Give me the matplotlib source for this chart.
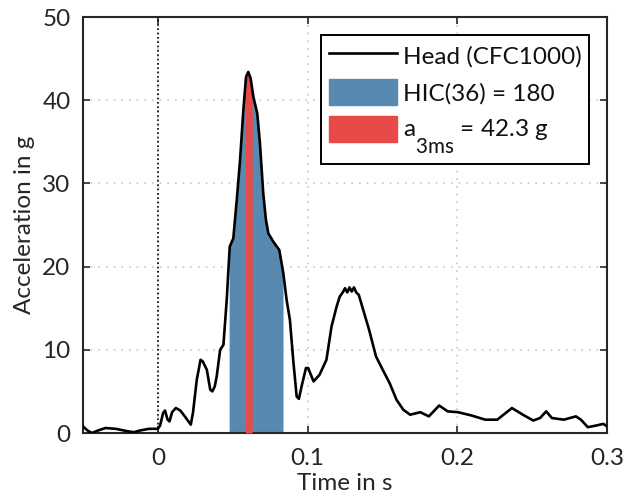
import numpy as np
import matplotlib
matplotlib.use("Agg")
import matplotlib.pyplot as plt
from matplotlib.patches import Patch
from matplotlib.lines import Line2D

plt.rcParams['font.family'] = ['Lato', 'DejaVu Sans']
plt.rcParams['mathtext.fontset'] = 'custom'
plt.rcParams['mathtext.rm'] = 'Lato'
plt.rcParams['mathtext.it'] = 'Lato:italic'
try:
    import matplotlib._mathtext as _mt
    _mt.SHRINK_FACTOR = 0.85
    _mt.FontConstantsBase.sub1 = 1.45
except Exception:
    pass

# ---- data ----
time_s = [-0.05, -0.047, -0.044, -0.040, -0.035, -0.028, -0.020, -0.016, -0.012, -0.006,
          0.0, 0.0015, 0.0035, 0.0048, 0.0065, 0.0078, 0.0095, 0.012, 0.015, 0.018,
          0.022, 0.0235, 0.026, 0.0285, 0.0300, 0.0327, 0.0350, 0.0364, 0.0380, 0.0393,
          0.0416, 0.0438, 0.046, 0.048, 0.0504, 0.0527, 0.0549, 0.0571, 0.0589, 0.0604,
          0.062, 0.0638, 0.0664, 0.0682, 0.0704, 0.0722, 0.0738, 0.0771, 0.0811, 0.0838,
          0.086, 0.0882, 0.0904, 0.0927, 0.0942, 0.096, 0.0989, 0.1004, 0.1040, 0.1080,
          0.1126, 0.116, 0.1194, 0.1215, 0.1235, 0.1250, 0.1265, 0.1280, 0.1295, 0.1310,
          0.1325, 0.1342, 0.1365, 0.1411, 0.1457, 0.1502, 0.1548, 0.1594, 0.1639, 0.1685,
          0.1753, 0.181, 0.1879, 0.1936, 0.2005, 0.2096, 0.2187, 0.2267, 0.2365, 0.2438,
          0.2507, 0.2553, 0.2594, 0.2632, 0.2712, 0.2792, 0.2826, 0.2872, 0.2929, 0.2975,
          0.3]
accel_g = [0.8, 0.3, 0.0, 0.3, 0.6, 0.5, 0.2, 0.1, 0.3, 0.5,
           0.5, 0.9, 2.4, 2.7, 1.6, 1.4, 2.5, 3.0, 2.7, 2.0,
           1.0, 2.5, 6.4, 8.8, 8.6, 7.6, 5.2, 5.0, 5.6, 6.8,
           10.0, 10.6, 16.0, 22.4, 23.4, 28.0, 32.8, 38.8, 42.8, 43.4,
           42.6, 40.4, 38.4, 34.8, 28.8, 25.6, 24.0, 23.0, 22.0, 19.2,
           16.0, 13.6, 8.8, 4.4, 4.1, 5.6, 7.8, 7.8, 6.2, 7.0,
           8.8, 12.8, 15.2, 16.4, 16.9, 17.4, 16.9, 17.5, 17.0, 17.5,
           16.9, 16.6, 15.2, 12.4, 9.2, 7.6, 6.0, 4.0, 2.8, 2.2,
           2.5, 2.0, 3.3, 2.6, 2.5, 2.1, 1.6, 1.6, 3.0, 2.2,
           1.5, 1.8, 2.6, 1.8, 1.6, 2.0, 1.6, 0.7, 0.9, 1.1,
           0.8]
hic_window = [0.0476, 0.0836]
a3ms_window = [0.0585, 0.0630]
hic_value = 180
a3ms_value = 42.3

x_ticks = [0, 0.1, 0.2, 0.3]
x_ticklabels = ['0', '0.1', '0.2', '0.3']
y_ticks = [0, 10, 20, 30, 40, 50]

t = np.array(time_s)
a = np.array(accel_g)

def window_poly(t0, t1):
    inside = (t > t0) & (t < t1)
    tw = np.concatenate([[t0], t[inside], [t1]])
    aw = np.concatenate([[np.interp(t0, t, a)], a[inside], [np.interp(t1, t, a)]])
    return tw, aw

blue = '#5889b0'
red = '#e84a4a'

fig = plt.figure(figsize=(6.27, 5.04), dpi=100)
ax = fig.add_axes([83/627, 1 - 433/504, (607-83)/627, (433-17)/504])

tw, aw = window_poly(*hic_window)
ax.fill_between(tw, 0, aw, color=blue, lw=0, zorder=2)
tw, aw = window_poly(*a3ms_window)
ax.fill_between(tw, 0, aw, color=red, lw=0, zorder=3)
ax.plot(t, a, color='black', lw=1.9, zorder=4)
ax.axvline(0, color='black', lw=1.2, ls=(0, (1, 1.6)), zorder=1.5)

ax.set_xlim(-0.05, 0.3)
ax.set_ylim(0, 50)
ax.set_xticks(x_ticks)
ax.set_xticklabels(x_ticklabels)
ax.set_yticks(y_ticks)
ax.grid(True, color='#c8c8c8', lw=1.2, ls=(0, (1, 3.6)), zorder=0)
ax.set_axisbelow(True)
ax.tick_params(direction='in', length=5, width=1.2, top=True, right=True,
               labelsize=17.5, colors='#262626')
ax.tick_params(axis='x', pad=11)
ax.tick_params(axis='y', pad=9)
for s in ax.spines.values():
    s.set_linewidth(1.5)
    s.set_color('#262626')
ax.set_xlabel('Time in s', fontsize=17.5, color='#262626', labelpad=3)
ax.set_ylabel('Acceleration in g', fontsize=17.5, color='#262626', labelpad=5)

handles = [Line2D([], [], color='black', lw=1.9),
           Patch(facecolor=blue, edgecolor=blue),
           Patch(facecolor=red, edgecolor=red)]
labels = ['Head (CFC1000)', f'HIC(36) = {hic_value}',
          r'a$_{\mathrm{3ms}}$' + f' = {a3ms_value} g']
leg = ax.legend(handles, labels, loc='upper right', fontsize=17.5, frameon=True,
                fancybox=False, edgecolor='black', framealpha=1,
                borderaxespad=0.75, handlelength=2.8, handleheight=1.25,
                handletextpad=0.25, labelspacing=0.45, borderpad=0.3)
leg.get_frame().set_linewidth(1.4)
for txt in leg.get_texts():
    txt.set_color('#111111')

fig.savefig('out.png', dpi=100)
